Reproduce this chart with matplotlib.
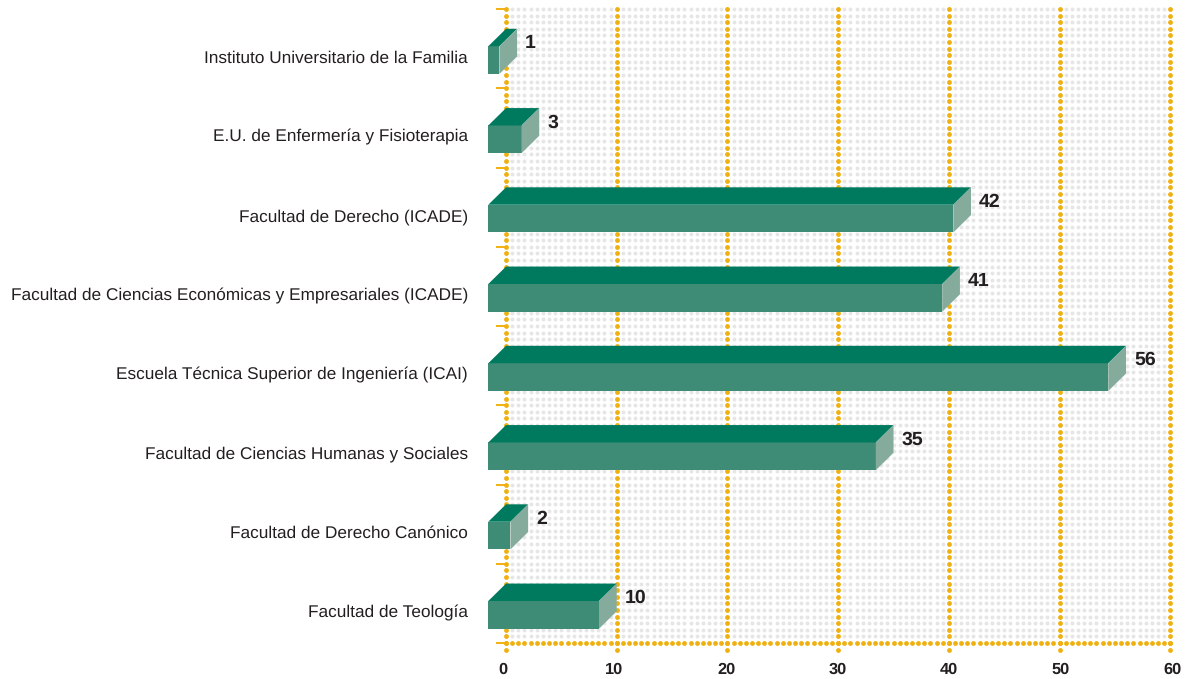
import numpy as np
import matplotlib
matplotlib.use("Agg")
import matplotlib.pyplot as plt

plt.rcParams["font.family"] = ["Liberation Sans", "DejaVu Sans"]
plt.rcParams["text.hinting"] = "no_hinting"

# === DATA ===
CATEGORIES = [
    "Instituto Universitario de la Familia",
    "E.U. de Enfermería y Fisioterapia",
    "Facultad de Derecho (ICADE)",
    "Facultad de Ciencias Económicas y Empresariales (ICADE)",
    "Escuela Técnica Superior de Ingeniería (ICAI)",
    "Facultad de Ciencias Humanas y Sociales",
    "Facultad de Derecho Canónico",
    "Facultad de Teología",
]
VALUES = [1, 3, 42, 41, 56, 35, 2, 10]
X_TICKS = [0, 10, 20, 30, 40, 50, 60]

# === STYLE ===
W, H = 1189, 679
LEFT, RIGHT, TOP, BOTTOM = 506, 1170.3, 9, 643
PX = 0.72  # points per pixel at dpi 100
ORANGE = "#f0b010"
GREY = "#e6e6e6"
FRONT = "#3f8c76"
TOPFACE = "#007a5e"
SIDE = "#85ab9c"
TEXT = "#231f20"
DEPTH_X = 1.6
BACK_Y, FRONT_TOP, FRONT_BOTTOM = 0.25, 0.47, 0.82

fig = plt.figure(figsize=(W / 100, H / 100), dpi=100)
ax = fig.add_axes([LEFT / W, 1 - BOTTOM / H, (RIGHT - LEFT) / W, (BOTTOM - TOP) / H])
ax.set_xlim(0, 60)
ax.set_ylim(len(CATEGORIES), 0)
for spine in ax.spines.values():
    spine.set_visible(False)

# dotted background
gx = np.arange(0, 108) * 10 / 18
gy = np.arange(0, 96) / 12
xx, yy = np.meshgrid(gx, gy)
ax.scatter(xx.ravel(), yy.ravel(), s=8, color=GREY, linewidths=0, zorder=1, clip_on=False)

# dotted orange grid
vy = np.arange(0, 98) / 12
for t in X_TICKS:
    ax.scatter([t] * len(vy), vy, s=12, color=ORANGE, linewidths=0, zorder=2, clip_on=False)
hx = np.arange(0, 109) * 10 / 18
ax.scatter(hx, [len(CATEGORIES)] * len(hx), s=12, color=ORANGE, linewidths=0, zorder=2, clip_on=False)

# ticks
ax.set_yticks(range(len(CATEGORIES) + 1))
ax.set_yticklabels([])
ax.tick_params(axis="y", length=7.2, width=1.4, color=ORANGE)
ax.set_xticks(X_TICKS)
ax.set_xticklabels([])
ax.tick_params(axis="x", length=0)
for t in X_TICKS:
    # source labels drift slightly wider than the grid
    ax.annotate(str(t), xy=(t, len(CATEGORIES)), xytext=((t / 60 * 5 - 3) * PX, -26.5 * PX),
                textcoords="offset points", ha="center", va="center", fontsize=11.8,
                fontweight="bold", color=TEXT, annotation_clip=False)

# 3D bars
for i, (name, v) in enumerate(zip(CATEGORIES, VALUES)):
    x0, x1 = -DEPTH_X, v - DEPTH_X
    ax.fill([x0, x1, x1, x0], [i + FRONT_TOP, i + FRONT_TOP, i + FRONT_BOTTOM, i + FRONT_BOTTOM],
            color=FRONT, lw=0, zorder=3, clip_on=False)
    ax.fill([x0, 0, v, x1], [i + FRONT_TOP, i + BACK_Y, i + BACK_Y, i + FRONT_TOP],
            color=TOPFACE, lw=0, zorder=3, clip_on=False)
    ax.fill([x1, v, v, x1], [i + FRONT_TOP, i + BACK_Y, i + BACK_Y + FRONT_BOTTOM - FRONT_TOP, i + FRONT_BOTTOM],
            color=SIDE, lw=0, zorder=3, clip_on=False)
    ax.annotate(name, xy=(0, i + 0.5), xytext=(-38 * PX, -9.5 * PX), textcoords="offset points",
                ha="right", va="center", fontsize=12.46, color=TEXT, annotation_clip=False)
    ax.annotate(str(v), xy=(v, i + 0.5), xytext=(8 * PX, 5.5 * PX), textcoords="offset points",
                ha="left", va="center", fontsize=14, fontweight="bold", color=TEXT, zorder=4)

fig.savefig("out.png", dpi=100)
